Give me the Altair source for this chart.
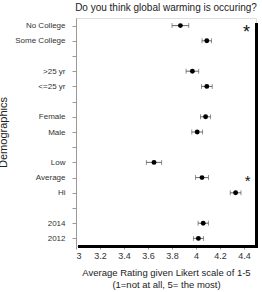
import altair as alt
import pandas as pd

# Survey groups, top to bottom; a spacer slot separates each group
groups = [
    ["No College", "Some College"],
    [">25 yr", "<=25 yr"],
    ["Female", "Male"],
    ["Low", "Average", "Hi"],
    ["2014", "2012"],
]
categories = ["No College", "Some College", ">25 yr", "<=25 yr", "Female", "Male",
              "Low", "Average", "Hi", "2014", "2012"]
mean_rating = [3.87, 4.09, 3.97, 4.09, 4.08, 4.01, 3.65, 4.05, 4.33, 4.06, 4.02]
std_error = [0.07, 0.04, 0.053, 0.045, 0.042, 0.045, 0.064, 0.054, 0.045, 0.043, 0.042]
x_ticks = [3, 3.2, 3.4, 3.6, 3.8, 4, 4.2, 4.4]

# Significance markers
star_rows = ["No College", "Average"]
star_x = [4.42, 4.43]
star_shift = [7, 3]
star_size = [18, 15]

slots = []
for i, g in enumerate(groups):
    slots.extend(g)
    if i < len(groups) - 1:
        slots.append(f"gap{i + 1}")

df = pd.DataFrame({"group": categories, "mean": mean_rating, "se": std_error})
df["lo"] = df["mean"] - df["se"]
df["hi"] = df["mean"] + df["se"]

W, H = 180, 228
xscale = alt.Scale(domain=[3, 4.5], nice=False, zero=False)
yscale = alt.Scale(domain=slots, type="point", padding=0.5)

font = "Liberation Sans"

y_axis = alt.Axis(
    title="Demographics",
    titleFont=font, titleFontSize=11, titleFontWeight="normal", titleColor="#222",
    titleX=-68, titleY=H / 2, titleAngle=-90,
    labelExpr="indexof(datum.value, 'gap') === 0 ? '' : datum.value",
    labelFont=font, labelFontSize=8, labelColor="#333", labelPadding=7,
    ticks=True, tickSize=4, tickColor="#999",
    domain=True, domainColor="#999", domainWidth=1, grid=False,
)
x_axis = alt.Axis(
    title=["Average Rating given Likert scale of 1-5", "(1=not at all, 5= the most)"],
    titleFont=font, titleFontSize=9.5, titleFontWeight="normal", titleColor="#222",
    titlePadding=7, titleLineHeight=12,
    values=x_ticks,
    labelExpr="format(datum.value, '.1~f')", labelOverlap=False,
    labelFont=font, labelFontSize=9, labelColor="#333", labelPadding=2,
    tickColor="#999", tickSize=3, domain=False, grid=False,
)


def xenc(field):
    return alt.X(f"{field}:Q", scale=xscale, axis=x_axis)


yenc = alt.Y("group:N", scale=yscale, axis=y_axis, sort=slots)

base = alt.Chart(df)

bars = base.mark_rule(color="#444", strokeWidth=0.8).encode(
    x=xenc("lo"), x2="hi:Q", y=yenc
)
cap_lo = base.mark_tick(color="#444", thickness=0.8, size=5, orient="vertical").encode(
    x=xenc("lo"), y=yenc
)
cap_hi = base.mark_tick(color="#444", thickness=0.8, size=5, orient="vertical").encode(
    x=xenc("hi"), y=yenc
)
points = base.mark_circle(color="black", opacity=1, size=24).encode(
    x=xenc("mean"), y=yenc
)
star_layers = []
for row, sx, dy, fs in zip(star_rows, star_x, star_shift, star_size):
    star_layers.append(
        alt.Chart(pd.DataFrame({"group": [row], "x": [sx]})).mark_text(
            text="*", font=font, fontSize=fs, color="#111", baseline="middle", dy=dy
        ).encode(x=xenc("x"), y=yenc)
    )

# Heavy black edges along the right and bottom of the frame
right_edge = alt.Chart(df).mark_rule(color="black", strokeWidth=3).encode(
    x=alt.value(W + 0.5), y=alt.value(5), y2=alt.value(H + 2)
)
bottom_edge = alt.Chart(df).mark_rule(color="black", strokeWidth=3).encode(
    x=alt.value(2), x2=alt.value(W + 2), y=alt.value(H + 0.5)
)

chart = alt.layer(
    bars, cap_lo, cap_hi, points, *star_layers, right_edge, bottom_edge
).properties(
    width=W, height=H,
    title=alt.TitleParams(
        "Do you think global warming is occuring?",
        font=font, fontSize=10, fontWeight="normal", color="#222",
        anchor="middle", offset=5,
    ),
    autosize=alt.AutoSizeParams(type="none"),
    padding={"left": 76, "top": 18, "right": 262 - 76 - W, "bottom": 292 - 18 - H},
).configure_view(
    stroke="#aaa", strokeWidth=1
).configure(background="white")

chart.save("out.html", embed_options={"renderer": "svg", "actions": False})
